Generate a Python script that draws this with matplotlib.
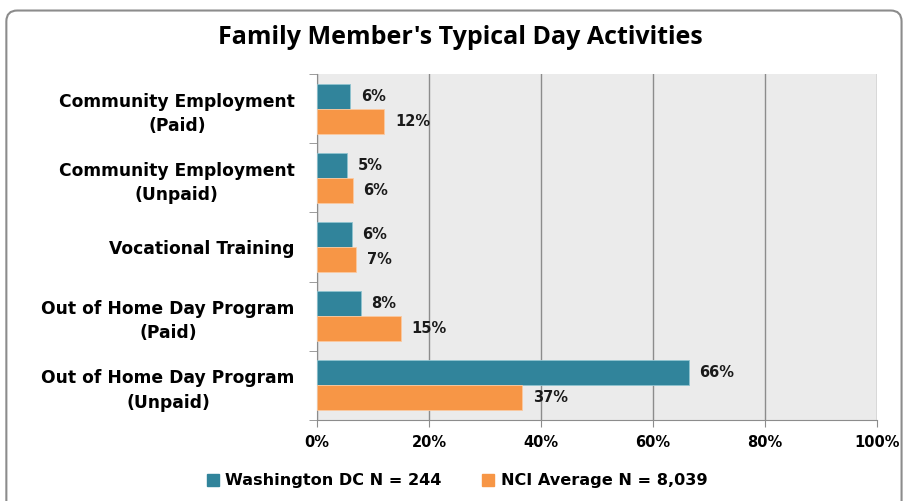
import numpy as np
import matplotlib.pyplot as plt
from matplotlib.patches import FancyBboxPatch, Patch

# DATA
categories = ['Community Employment\n(Paid)', 'Community Employment\n(Unpaid)',
              'Vocational Training', 'Out of Home Day Program\n(Paid)',
              'Out of Home Day Program\n(Unpaid)']
dc_values = [5.9, 5.4, 6.2, 7.8, 66.4]
nci_values = [12.0, 6.4, 7.0, 15.0, 36.6]
dc_labels = ['6%', '5%', '6%', '8%', '66%']
nci_labels = ['12%', '6%', '7%', '15%', '37%']
series_names = ['Washington DC N = 244', 'NCI Average N = 8,039']

teal = '#31849B'
orange = '#F79646'
plt.rcParams['font.family'] = ['DejaVu Sans']

fig = plt.figure(figsize=(9.07, 5.01), dpi=100)
ax = fig.add_axes([0.3495, 0.1617, 0.6175, 0.6906])

# outer rounded frame
frame = FancyBboxPatch((0.007, -0.05), 0.987, 1.029, boxstyle='round,pad=0,rounding_size=0.012',
                       transform=fig.transFigure, fill=False, edgecolor='#8c8c8c', linewidth=1.5,
                       mutation_aspect=907 / 501)
fig.patches.append(frame)

y = np.arange(len(categories))
h = 0.36
ax.barh(y - h / 2, dc_values, height=h, color=teal, edgecolor='#8fc3d0', linewidth=0.6, zorder=3)
ax.barh(y + h / 2, nci_values, height=h, color=orange, edgecolor='#fbc9a0', linewidth=0.6, zorder=3)

for i in range(len(categories)):
    ax.text(dc_values[i] + 1.9, y[i] - h / 2, dc_labels[i], va='center', ha='left',
            fontsize=10.5, fontweight='bold', color='#1a1a1a')
    ax.text(nci_values[i] + 1.9, y[i] + h / 2, nci_labels[i], va='center', ha='left',
            fontsize=10.5, fontweight='bold', color='#1a1a1a')

ax.set_xlim(0, 100)
ax.set_ylim(len(categories) - 0.5, -0.5)
ax.set_facecolor('#EBEBEB')
ax.set_xticks(np.arange(0, 101, 20))
ax.set_xticklabels([f'{v}%' for v in range(0, 101, 20)], fontsize=10.5, fontweight='bold')
ax.set_yticks(y)
ax.set_yticklabels(categories, fontsize=12.3, fontweight='bold', ha='right',
                   multialignment='center', linespacing=1.45)
ax.tick_params(axis='y', length=0, pad=16)
ax.set_yticks(np.arange(-0.5, len(categories)), minor=True)
ax.tick_params(axis='y', which='minor', length=6, color='#8c8c8c')
ax.tick_params(axis='x', length=5, color='#8c8c8c', pad=6)
ax.grid(axis='x', color='#8c8c8c', linewidth=1, zorder=0)
ax.set_axisbelow(True)
for s in ['top', 'right']:
    ax.spines[s].set_visible(False)
for s in ['left', 'bottom']:
    ax.spines[s].set_color('#8c8c8c')

fig.text(0.508, 0.926, "Family Member's Typical Day Activities", ha='center', va='center',
         fontsize=18, fontweight='bold', family='Open Sans')

handles = [Patch(color=teal), Patch(color=orange)]
fig.legend(handles, series_names, loc='center', bbox_to_anchor=(0.504, 0.04), ncol=2,
           frameon=False, prop={'weight': 'bold', 'size': 11.6}, handlelength=0.75,
           handleheight=0.75, columnspacing=2.5, handletextpad=0.4)

fig.savefig('out.png', dpi=100)
